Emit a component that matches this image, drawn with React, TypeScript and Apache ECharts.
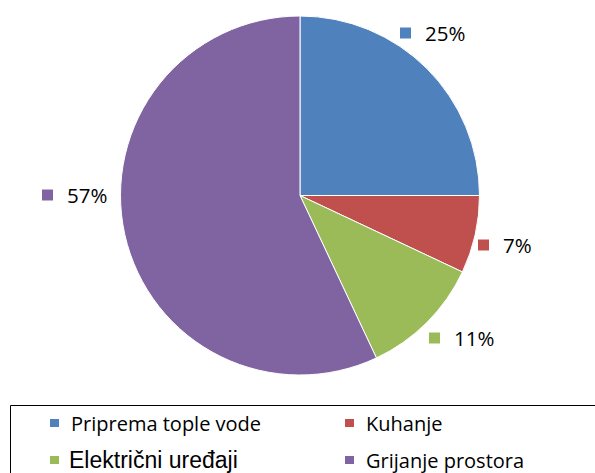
import React, { useEffect, useRef } from "react";
import * as echarts from "echarts";

const categories = ["Priprema tople vode", "Kuhanje", "Električni uređaji", "Grijanje prostora"];
const values = [25, 7, 11, 57];
const colors = ["#4F81BD", "#C0504D", "#9BBB59", "#8064A2"];
// label anchor points (left edge, vertical middle)
const labelAnchors: [number, number][] = [
  [400, 33],
  [478, 245],
  [429, 338],
  [42, 195],
];

export default function App() {
  const ref = useRef<HTMLDivElement>(null);
  useEffect(() => {
    if (!ref.current) return;
    const chart = echarts.init(ref.current, undefined, { renderer: "svg" });
    const legendPos = [
      { left: 48, top: 411 },
      { left: 343, top: 411 },
      { left: 48, top: 448 },
      { left: 343, top: 448 },
    ];
    const legends = categories.map((name, i) => ({
      show: true,
      orient: "vertical",
      left: legendPos[i].left,
      top: legendPos[i].top,
      padding: 0,
      icon: "rect",
      itemWidth: 11,
      itemHeight: 10,
      selectedMode: false,
      data: [name],
      textStyle: {
        color: "#000",
        fontFamily: i === 2 ? "Liberation Sans" : "Open Sans",
        fontSize: i === 2 ? 23 : 20,
        lineHeight: 24,
        padding: [0, 0, 0, i === 2 ? 4 : 6],
      },
    }));
    chart.setOption({
      animation: false,
      backgroundColor: "#fff",
      color: colors,
      legend: legends,
      graphic: [
        {
          type: "rect",
          shape: { x: 10.5, y: 405.5, width: 600, height: 80 },
          style: { fill: "none", stroke: "#000", lineWidth: 1 },
          silent: true,
        },
      ],
      series: [
        {
          type: "pie",
          center: [300, 195.5],
          radius: 179.5,
          startAngle: 90,
          clockwise: true,
          avoidLabelOverlap: false,
          itemStyle: { borderColor: "#fff", borderWidth: 1 },
          labelLine: { show: false },
          emphasis: { disabled: true },
          label: {
            show: true,
            position: "outside",
            formatter: (p: any) => `{s${p.dataIndex}|}{t|${p.value}%}`,
            rich: {
              s0: { width: 11, height: 11, backgroundColor: colors[0] },
              s1: { width: 11, height: 11, backgroundColor: colors[1] },
              s2: { width: 11, height: 11, backgroundColor: colors[2] },
              s3: { width: 11, height: 11, backgroundColor: colors[3] },
              t: {
                fontFamily: "Open Sans",
                fontSize: 20.5,
                color: "#000",
                padding: [0, 0, 0, 14],
                lineHeight: 24,
              },
            },
          },
          labelLayout: (params: any) => {
            const a = labelAnchors[params.dataIndex];
            return { x: a[0], y: a[1], align: "left", verticalAlign: "middle" };
          },
          data: categories.map((name, i) => ({ name, value: values[i] })),
        },
      ],
    });
    return () => chart.dispose();
  }, []);
  return (
    <div
      ref={ref}
      style={{ position: "fixed", left: 0, top: 0, width: 595, height: 473 }}
    />
  );
}
